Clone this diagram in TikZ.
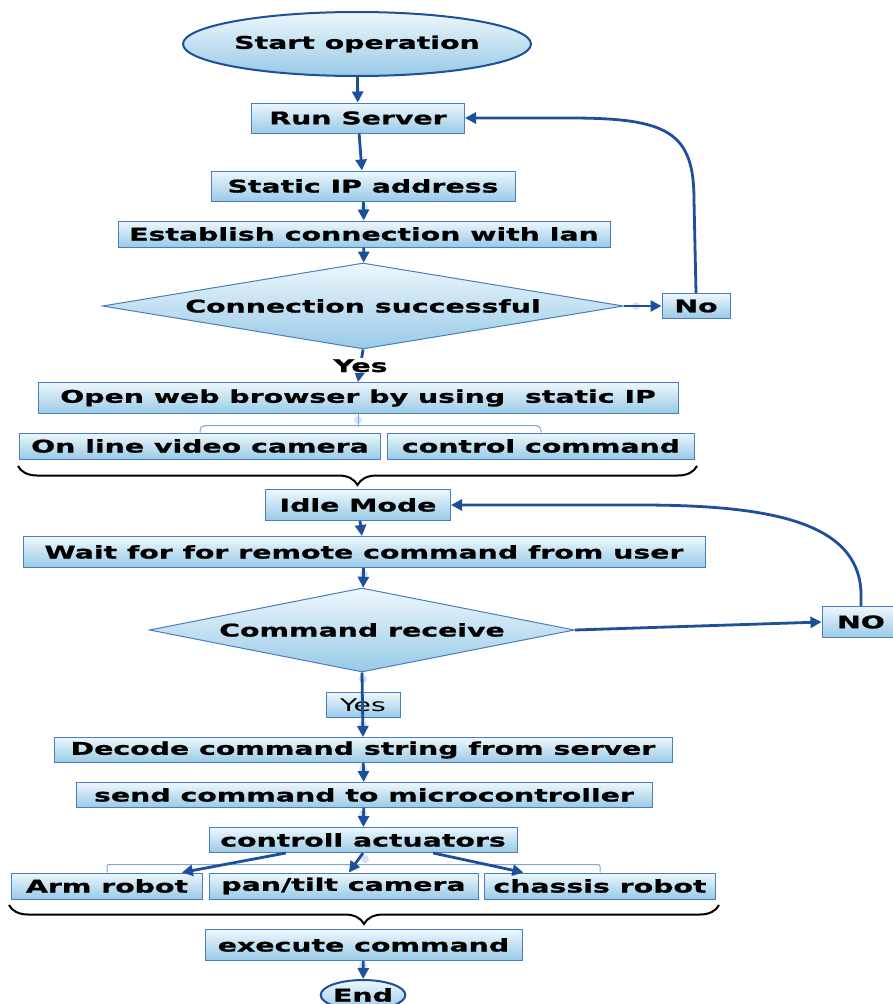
\documentclass[tikz,border=0pt]{standalone}
\usepackage{fontspec}
\setmainfont{DejaVu Sans}[FakeStretch=1.62, BoldFeatures={FakeBold=1}]
\usetikzlibrary{shapes.geometric,arrows.meta,decorations.pathreplacing,calc}
\definecolor{boxline}{HTML}{4A7DBE}
\definecolor{boxtop}{HTML}{EEF7FC}
\definecolor{boxbot}{HTML}{98CAE7}
\definecolor{flow}{HTML}{1D4F9A}
\definecolor{thinline}{HTML}{7FA8D8}
\definecolor{knobc}{HTML}{BFD6F2}
\begin{document}
\begin{tikzpicture}[x=1pt, y=-1pt,
  box/.style={draw=boxline, line width=1pt, top color=boxtop, bottom color=boxbot,
    inner sep=0pt, font=\fontsize{17.5}{20}\selectfont\bfseries},
  term/.style={box, ellipse, draw=flow, line width=2pt},
  decide/.style={box, diamond},
  flow/.style={draw=flow, line width=2.8pt, -{Triangle[length=11pt,width=11pt]}},
  thin/.style={draw=thinline, line width=1pt, rounded corners=5pt},
  curly/.style={draw=black, line width=2pt, decorate},
  knob/.style={circle, fill=knobc, opacity=0.7, minimum size=8pt, inner sep=0pt}]
  \useasboundingbox (0,0) rectangle (892,1004);
  \fill[white] (0,0) rectangle (892,1004);
  \node[term, minimum width=348pt, minimum height=64pt] (start) at (357,44) {Start operation};
  \node[box, minimum width=213pt, minimum height=30pt] (run) at (358,118) {Run Server};
  \node[box, minimum width=304pt, minimum height=30pt] (static) at (363,186) {Static IP address};
  \node[box, minimum width=492pt, minimum height=26pt] (lan) at (364,234) {Establish connection with lan};
  \node[decide, minimum width=521pt, minimum height=86pt, aspect=6.06] (conn) at (363,306) {Connection successful};
  \node[box, minimum width=68pt, minimum height=25pt] (no) at (696,306) {No};
  \node[box, minimum width=640pt, minimum height=31pt] (open) at (358,398) {Open web browser by using\ \ static IP};
  \node[box, minimum width=361pt, minimum height=26pt] (video) at (200,446) {On line video camera};
  \node[box, minimum width=307pt, minimum height=26pt] (control) at (541,446) {control command};
  \node[box, minimum width=185pt, minimum height=31pt] (idle) at (358,505) {Idle Mode};
  \node[box, minimum width=682pt, minimum height=31pt] (wait) at (364,552) {Wait for for remote command from user};
  \node[decide, minimum width=425pt, minimum height=84pt, aspect=5.06] (recv) at (362,630) {Command receive};
  \node[box, minimum width=78pt, minimum height=31pt] (nobox) at (861,622) {NO};
  \node[box, minimum width=74pt, minimum height=25pt, font=\fontsize{17.5}{20}\selectfont] (yes) at (363,705) {Yes};
  \node[box, minimum width=618pt, minimum height=25pt] (decode) at (363,750) {Decode command string from server};
  \node[box, minimum width=576pt, minimum height=25pt] (send) at (364,795) {send command to microcontroller};
  \node[box, minimum width=308pt, minimum height=25pt] (act) at (363,840) {controll actuators};
  \node[box, minimum width=191pt, minimum height=26pt] (arm) at (107,886) {Arm robot};
  \node[box, minimum width=269pt, minimum height=26pt] (pan) at (343.5,886) {pan/tilt camera};
  \node[box, minimum width=231pt, minimum height=26pt] (chassis) at (600,886) {chassis robot};
  \node[box, minimum width=317pt, minimum height=31pt] (exec) at (363.5,945) {execute command};
  \node[term, minimum width=83pt, minimum height=30pt] (stop) at (363,995) {End};
  \foreach \p [count=\i] in {(364,208), (636,306), (358,420), (364,574), (363,679), (363,725), (363,769), (363,814), (365,859), (363,966)}
    \node[knob] (k\i) at \p {};
  \draw[flow] (start) -- (run);
  \draw[flow] (run) -- (static);
  \draw[flow] (static) -- (lan);
  \draw[flow] (lan) -- (conn);
  \draw[flow] (conn) -- (no);
  \draw[flow] (no.north) -- (694,200) .. controls (694,132) and (668,118) .. (570,118) -- (run.east);
  \draw[flow] (conn.south) -- node[fill=white, inner sep=1pt, font=\fontsize{17.5}{20}\selectfont\bfseries] (yeslabel) {Yes} (open.north);
  \draw[thin] (open.south) -- (358,427);
  \draw[thin] (video.north) -- ++(0,-7) -| (control.north);
  \draw[curly, decoration={brace, amplitude=19pt}] (697,466) -- (18,466);
  \draw[flow] (idle) -- (wait);
  \draw[flow] (wait) -- (recv);
  \draw[flow] (recv.east) -- (nobox.west);
  \draw[flow] (nobox.north) -- (861,592) .. controls (858,522) and (770,505) .. (640,505) -- (idle.east);
  \draw[flow] (recv.south) -- (decode.north);
  \draw[flow] (decode) -- (send);
  \draw[flow] (send) -- (act);
  \draw[thin, rounded corners=2pt] (arm.north) -- ++(0,-8) -| (chassis.north);
  \draw[flow] ($(act.south west)!0.25!(act.south east)$) -- ($(arm.north west)!0.89!(arm.north east)$);
  \draw[flow] (act.south) -- ($(pan.north west)!0.52!(pan.north east)$);
  \draw[flow] ($(act.south west)!0.727!(act.south east)$) -- ($(chassis.north west)!0.17!(chassis.north east)$);
  \draw[curly, decoration={brace, amplitude=19pt}] (719,905) -- (9,905);
  \draw[flow] (exec) -- (stop);
\end{tikzpicture}
\end{document}
